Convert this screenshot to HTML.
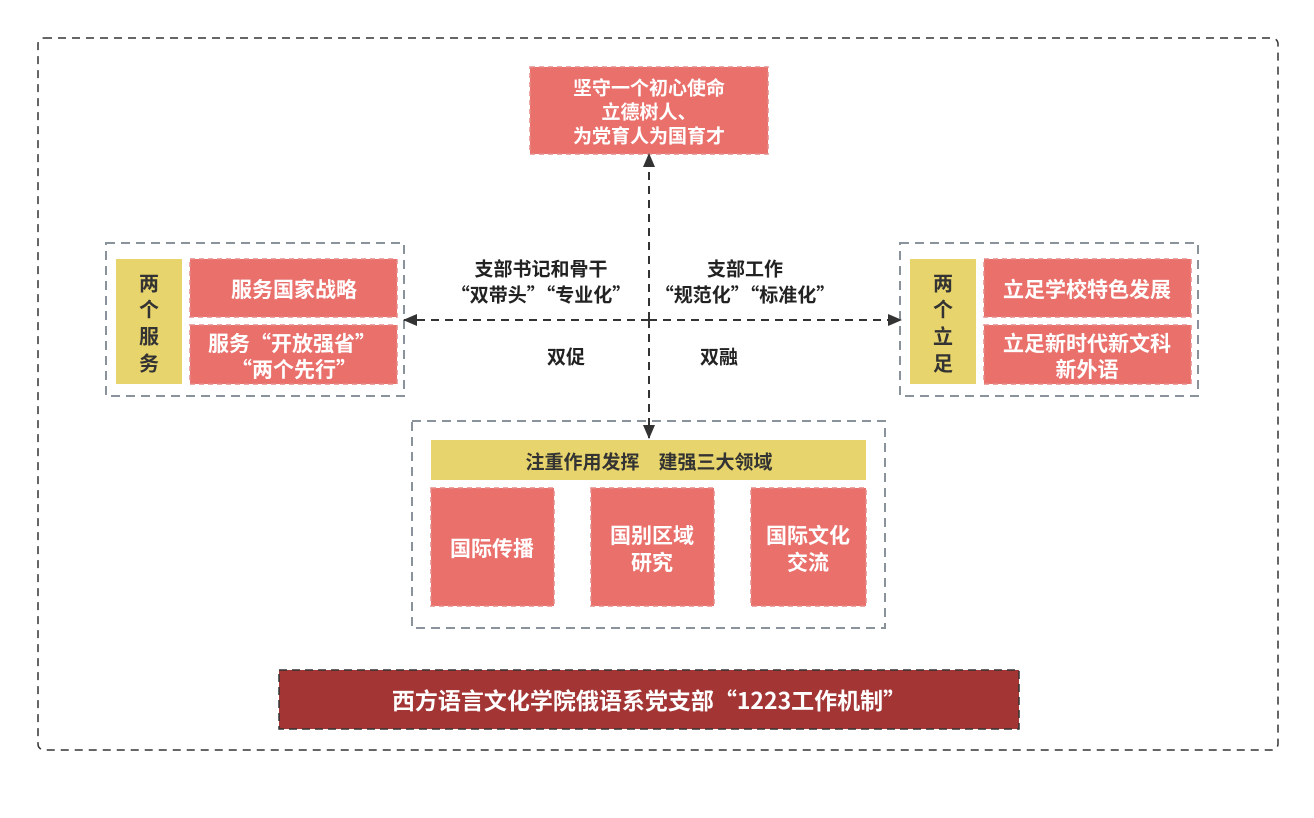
<!DOCTYPE html>
<html><head><meta charset="utf-8"><style>
body{margin:0;background:#fff}
text{font-family:"Noto Sans CJK SC","Liberation Sans",sans-serif;font-weight:bold;text-anchor:middle;dominant-baseline:central}
</style></head><body>
<svg width="1314" height="813" xmlns="http://www.w3.org/2000/svg">
<defs>
<marker id="a" markerWidth="14" markerHeight="14" refX="13" refY="6" orient="auto" markerUnits="userSpaceOnUse"><path d="M0,0L14,6L0,12z" fill="#333"/></marker>
</defs>
<rect x="38" y="38" width="1240" height="712" rx="6" fill="none" stroke="#333" stroke-width="1.5" stroke-dasharray="8,6"/>
<rect x="530" y="67" width="238" height="87" fill="#ea706c" stroke="#e48a87" stroke-width="1.5" stroke-dasharray="5,4"/>
<g fill="#fff" font-size="19">
<text x="649" y="87">坚守一个初心使命</text>
<text x="649" y="111">立德树人、</text>
<text x="649" y="135">为党育人为国育才</text>
</g>
<g fill="none" stroke="#8a939c" stroke-width="2" stroke-dasharray="9,6">
<rect x="106" y="243" width="298" height="153"/>
<rect x="900" y="243" width="298" height="153"/>
<rect x="412" y="421" width="473" height="207"/>
</g>
<g fill="#e8d46c">
<rect x="116" y="259" width="66" height="125"/>
<rect x="910" y="259" width="66" height="125"/>
<rect x="431" y="440" width="435" height="40"/>
</g>
<g fill="#ea706c" stroke="#e48a87" stroke-width="1.5" stroke-dasharray="5,4">
<rect x="190" y="259" width="207" height="58"/>
<rect x="190" y="325" width="207" height="59"/>
<rect x="984" y="259" width="207" height="58"/>
<rect x="984" y="325" width="207" height="59"/>
<rect x="431" y="488" width="123" height="118"/>
<rect x="591" y="488" width="123" height="118"/>
<rect x="751" y="488" width="115" height="118"/>
</g>
<rect x="279" y="670" width="740" height="59" fill="#a33535" stroke="#333" stroke-width="1.5" stroke-dasharray="8,5"/>
<g fill="#333" font-size="20">
<text x="149" y="282">两</text><text x="149" y="308">个</text><text x="149" y="335">服</text><text x="149" y="362">务</text>
<text x="943" y="282">两</text><text x="943" y="308">个</text><text x="943" y="335">立</text><text x="943" y="362">足</text>
<text x="649" y="461" font-size="19">注重作用发挥　建强三大领域</text>
</g>
<g fill="#fff" font-size="21">
<text x="294" y="289">服务国家战略</text>
<text x="292" y="343">服务“开放强省”</text>
<text x="294" y="369">“两个先行”</text>
<text x="1087" y="289">立足学校特色发展</text>
<text x="1087" y="343">立足新时代新文科</text>
<text x="1087" y="369">新外语</text>
<text x="492" y="548">国际传播</text>
<text x="652" y="535">国别区域</text>
<text x="652" y="562">研究</text>
<text x="808" y="535">国际文化</text>
<text x="808" y="562">交流</text>
<text x="649" y="699" font-size="23">西方语言文化学院俄语系党支部“1223工作机制”</text>
</g>
<g stroke="#333" stroke-width="2" stroke-dasharray="8,6" fill="none">
<line x1="649" y1="320" x2="404" y2="320" marker-end="url(#a)"/>
<line x1="649" y1="320" x2="901" y2="320" marker-end="url(#a)"/>
<line x1="649" y1="320" x2="649" y2="154" marker-end="url(#a)"/>
<line x1="649" y1="320" x2="649" y2="438" marker-end="url(#a)"/>
</g>
<g fill="#222" font-size="19">
<text x="541" y="268">支部书记和骨干</text>
<text x="541" y="294">“双带头”“专业化”</text>
<text x="745" y="268">支部工作</text>
<text x="745" y="294">“规范化”“标准化”</text>
<text x="566" y="356">双促</text>
<text x="719" y="356">双融</text>
</g>
</svg>
</body></html>
